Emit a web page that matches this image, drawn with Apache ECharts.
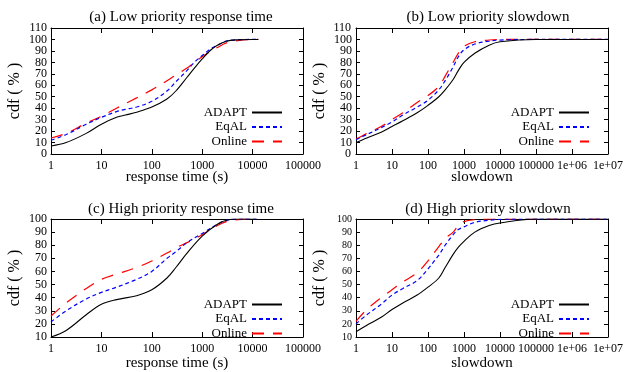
<!DOCTYPE html>
<html>
<head>
<meta charset="utf-8">
<script src="https://cdn.jsdelivr.net/npm/echarts@6/dist/echarts.min.js"></script>
<style>
html,body{margin:0;padding:0;background:#fff;}
#chart{width:626px;height:372px;}
</style>
</head>
<body>
<div id="chart"></div>
<script>
// ---- data ----
const seriesNames = ['ADAPT', 'EqAL', 'Online'];
const panelTitles = ['(a) Low priority response time', '(b) Low priority slowdown',
                     '(c) High priority response time', '(d) High priority slowdown'];
const xAxisNames = ['response time (s)', 'slowdown', 'response time (s)', 'slowdown'];
const yAxisName = 'cdf ( % )';

// (a) low priority response time
const lowRespX      = [1, 2, 5, 10, 20, 30, 50, 100, 200, 300, 500, 700, 1000, 1500, 2000, 3000, 5000, 10000, 13000];
const lowRespAdapt  = [7, 10, 18, 26, 32, 34, 36.5, 41, 48, 55, 67, 75, 83, 91, 95, 98.5, 99.7, 100, 100];
const lowRespEqal   = [12, 17, 26, 32, 37, 39, 41, 46, 55, 63, 73, 80, 86, 92, 95, 98.5, 99.8, 100, 100];
const lowRespOnline = [14, 18, 27, 33, 40, 44, 49, 56, 64, 69, 75, 80, 85, 90, 93, 97, 99, 100, 100];

// (b) low priority slowdown
const lowSlowX      = [1, 2, 5, 10, 20, 50, 100, 200, 300, 500, 700, 1000, 2000, 5000, 10000, 1e5, 1e6, 1e7];
const lowSlowAdapt  = [10, 14, 19, 24, 29, 36, 42.5, 50, 56, 65, 73, 80, 88, 95, 98, 100, 100, 100];
const lowSlowEqal   = [12.5, 17, 23, 28, 34, 41, 47, 56, 64, 76, 85, 91, 96, 98.5, 99.5, 100, 100, 100];
const lowSlowOnline = [13, 18, 24, 30, 36, 45, 51, 59, 68, 80, 88, 94, 98, 99.5, 100, 100, 100, 100];

// (c) high priority response time
const highRespX      = [1, 2, 5, 10, 20, 50, 100, 200, 300, 500, 1000, 2000, 3000, 5000, 10000, 12000];
const highRespAdapt  = [10, 15, 27, 35, 38.5, 41.5, 46, 55, 63, 74, 87, 96, 99, 100, 100, 100];
const highRespEqal   = [21.5, 30, 39, 44, 48, 54, 60, 70, 75, 82, 89, 96, 99, 100, 100, 100];
const highRespOnline = [26, 36, 47, 54, 58, 63, 68, 74, 78, 82, 88, 95, 98, 99.5, 100, 100];

// (d) high priority slowdown
const highSlowX      = [1, 2, 5, 10, 20, 50, 100, 200, 300, 500, 700, 1000, 2000, 5000, 10000, 1e5, 1e6, 1e7];
const highSlowAdapt  = [14, 19, 25, 31, 36, 42, 48, 55, 63, 73, 78.5, 83, 90, 95, 97, 100, 100, 100];
const highSlowEqal   = [20, 27, 35, 42, 47, 53, 62, 72.5, 80, 88, 92, 94, 97.5, 99, 99.7, 100, 100, 100];
const highSlowOnline = [22, 31, 40, 46, 52, 59, 68, 79, 85, 90, 95, 98, 99.5, 100, 100, 100, 100, 100];

// axis ranges / ticks
const xMax = [1e5, 1e7, 1e5, 1e7];
const yMin = [0, 0, 10, 10];
const yMax = [110, 110, 100, 100];

// ---- layout ----
const FONT = "'Liberation Serif', 'Times New Roman', serif";
const grids = [
  {left: 51, top: 28, width: 252, height: 126},
  {left: 356, top: 28, width: 253, height: 126},
  {left: 51, top: 219, width: 252, height: 125},
  {left: 356, top: 219, width: 253, height: 125}
];
const titlePos = [[176, 5], [483, 5], [176, 197], [483, 197]];
const legendPos = [[343, 106], [36, 106], [343, 298], [36, 298]];
const yLabelSize = [12, 12, 12, 10];
const xNameGap = [16, 16, 19, 19];

const panelData = [
  [lowRespX, [lowRespAdapt, lowRespEqal, lowRespOnline]],
  [lowSlowX, [lowSlowAdapt, lowSlowEqal, lowSlowOnline]],
  [highRespX, [highRespAdapt, highRespEqal, highRespOnline]],
  [highSlowX, [highSlowAdapt, highSlowEqal, highSlowOnline]]
];
const lineStyles = [
  {color: '#000000', width: 1.1, type: 'solid'},
  {color: '#0000ff', width: 1.2, type: [4, 3]},
  {color: '#ff0000', width: 1.2, type: [12, 9]}
];

function fmtX(v) {
  const e = Math.round(Math.log10(v));
  if (e >= 6) return '1e+' + (e < 10 ? '0' : '') + e;
  return String(Math.round(Math.pow(10, e)));
}

const option = {
  animation: false,
  backgroundColor: '#fff',
  textStyle: {fontFamily: FONT},
  title: [], legend: [], grid: grids, xAxis: [], yAxis: [], series: []
};

for (let p = 0; p < 4; p++) {
  const tight = (yMax[p] - yMin[p]) / 10 * 12 > grids[p].height; // labels too dense for min/max overlap check
  option.title.push({
    text: panelTitles[p], left: titlePos[p][0], top: titlePos[p][1], textAlign: 'center',
    textStyle: {fontFamily: FONT, fontSize: 15, fontWeight: 'normal', color: '#000'}
  });
  option.legend.push({
    data: seriesNames, orient: 'vertical', align: 'right',
    right: legendPos[p][0], top: legendPos[p][1], padding: 0,
    itemWidth: 30, itemHeight: 14, itemGap: 1.5,
    itemStyle: {opacity: 0, borderWidth: 0},
    textStyle: {fontFamily: FONT, fontSize: 13, color: '#000'},
    selectedMode: false
  });
  // bottom x axis
  option.xAxis.push({
    type: 'log', logBase: 10, gridIndex: p, min: 1, max: xMax[p], position: 'bottom',
    name: xAxisNames[p], nameLocation: 'middle', nameGap: xNameGap[p], nameMoveOverlap: false,
    nameTextStyle: {fontFamily: FONT, fontSize: 15, color: '#000'},
    axisLine: {show: true, onZero: false, lineStyle: {color: '#000', width: 1}},
    axisTick: {show: true, inside: true, length: 5, lineStyle: {color: '#000'}},
    axisLabel: {show: true, margin: 6, fontFamily: FONT, fontSize: 12, color: '#000', formatter: fmtX, showMinLabel: true, showMaxLabel: true, hideOverlap: false},
    splitLine: {show: false}
  });
  // top mirror x axis
  option.xAxis.push({
    type: 'log', logBase: 10, gridIndex: p, min: 1, max: xMax[p], position: 'top',
    axisLine: {show: true, onZero: false, lineStyle: {color: '#000', width: 1}},
    axisTick: {show: true, inside: true, length: 5, lineStyle: {color: '#000'}},
    axisLabel: {show: false}, splitLine: {show: false}
  });
  const yIndex = option.yAxis.length;
  // left y axis
  option.yAxis.push({
    type: 'value', gridIndex: p, min: yMin[p], max: yMax[p], interval: 10, position: 'left',
    name: yAxisName, nameLocation: 'middle', nameGap: 28, nameMoveOverlap: false,
    nameTextStyle: {fontFamily: FONT, fontSize: 16, color: '#000'},
    axisLine: {show: true, onZero: false, lineStyle: {color: '#000', width: 1}},
    axisTick: {show: true, inside: true, length: 4, lineStyle: {color: '#000'}},
    axisLabel: {show: true, margin: 4, fontFamily: FONT, fontSize: yLabelSize[p], color: '#000',
      showMinLabel: !tight, showMaxLabel: !tight, hideOverlap: false},
    splitLine: {show: false}
  });
  // right mirror y axis
  option.yAxis.push({
    type: 'value', gridIndex: p, min: yMin[p], max: yMax[p], interval: 10, position: 'right',
    axisLine: {show: true, onZero: false, lineStyle: {color: '#000', width: 1}},
    axisTick: {show: true, inside: true, length: 4, lineStyle: {color: '#000'}},
    axisLabel: {show: false}, splitLine: {show: false}
  });
  if (tight) {
    // extra axis that only carries the end labels (min / max), placed on the left edge
    option.yAxis.push({
      type: 'value', gridIndex: p, min: yMin[p], max: yMax[p], interval: yMax[p] - yMin[p],
      position: 'right', offset: -grids[p].width,
      axisLine: {show: false}, axisTick: {show: false}, splitLine: {show: false},
      axisLabel: {show: true, inside: true, margin: 4, fontFamily: FONT, fontSize: yLabelSize[p], color: '#000',
        showMinLabel: true, showMaxLabel: true, hideOverlap: false}
    });
  }
  const xs = panelData[p][0];
  for (let s = 0; s < 3; s++) {
    const ys = panelData[p][1][s];
    option.series.push({
      name: seriesNames[s], type: 'line', xAxisIndex: p * 2, yAxisIndex: yIndex,
      data: xs.map((x, i) => [x, ys[i]]),
      smooth: 0.35, symbol: 'none', showSymbol: false,
      lineStyle: lineStyles[s], itemStyle: {color: lineStyles[s].color},
      z: 3 - s, clip: true
    });
  }
}

const chart = echarts.init(document.getElementById('chart'), null, {renderer: 'canvas'});
chart.setOption(option);
</script>
</body>
</html>
